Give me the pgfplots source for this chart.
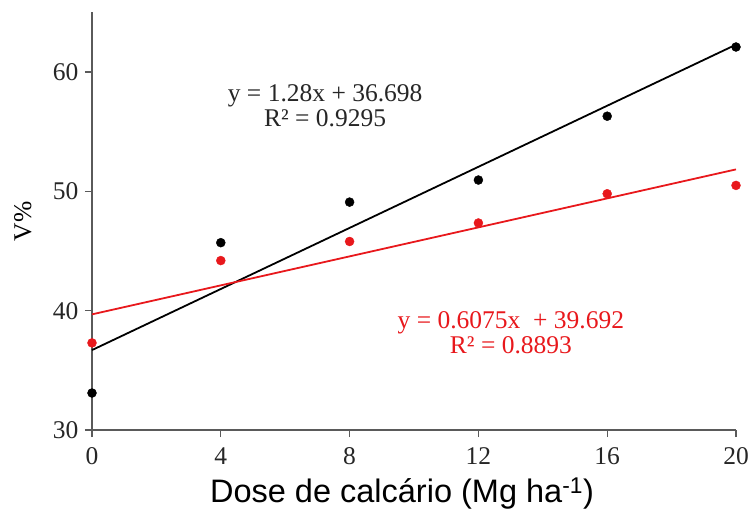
\documentclass[border=0pt]{standalone}
\usepackage{pgfplots}
\pgfplotsset{compat=1.18}
\usepackage{fontspec}
\setmainfont{Liberation Serif}
\newfontfamily\arial{Liberation Sans}
\definecolor{trendred}{RGB}{232,24,28}
\definecolor{axgray}{RGB}{90,90,90}

\begin{document}
\begin{tikzpicture}
\begin{axis}[name=ax,
  width=644pt, height=417.6pt, scale only axis,
  xmin=0, xmax=20, ymin=30, ymax=65,
  axis lines*=left, clip=false,
  axis line style={axgray, line width=1.2pt},
  xtick={0,4,8,12,16,20}, ytick={30,40,50,60},
  tick align=outside, major tick length=7pt,
  tick style={axgray, line width=1.2pt},
  /pgf/number format/assume math mode=true,
  ticklabel style={font=\fontsize{25.5}{28}\selectfont, text=black!85},
  xticklabel style={yshift=-7pt},
  yticklabel style={xshift=-3pt},
  xlabel={\arial\fontsize{32.5}{36}\selectfont Dose de calcário (Mg ha\textsuperscript{-1})},
  xlabel style={yshift=-6pt, xshift=-12pt},
  ylabel={\fontsize{25.5}{28}\selectfont V\%},
  ylabel style={at={(rel axis cs:0,0.5)}, anchor=south, yshift=57pt},
]
% fitted lines (end points from the equations)
\addplot[black, line width=1.8pt] coordinates {(0,36.698) (20,62.298)};
\addplot[trendred, line width=1.8pt] coordinates {(0,39.692) (20,51.842)};
% measured points
\addplot[only marks, mark=*, mark size=4.5pt, black] coordinates {
(0,33.1) (4,45.7) (8,49.1) (12,50.95) (16,56.3) (20,62.1)};
\addplot[only marks, mark=*, mark size=4.5pt, trendred] coordinates {
(0,37.3) (4,44.2) (8,45.8) (12,47.35) (16,49.8) (20,50.5)};

\node[align=center, font=\fontsize{25.5}{25}\selectfont, text=black!85]
  at (axis cs:7.24,57.2) {y = 1.28x + 36.698\\R² = 0.9295};
\node[align=center, font=\fontsize{25.5}{25}\selectfont, text=trendred]
  at (axis cs:13.01,38.13) {y = 0.6075x \ + 39.692\\R² = 0.8893};
\end{axis}
\path[use as bounding box] ([xshift=-92pt,yshift=-88pt]ax.south west)
  rectangle ([xshift=18pt,yshift=12.4pt]ax.north east);
\end{tikzpicture}
\end{document}
